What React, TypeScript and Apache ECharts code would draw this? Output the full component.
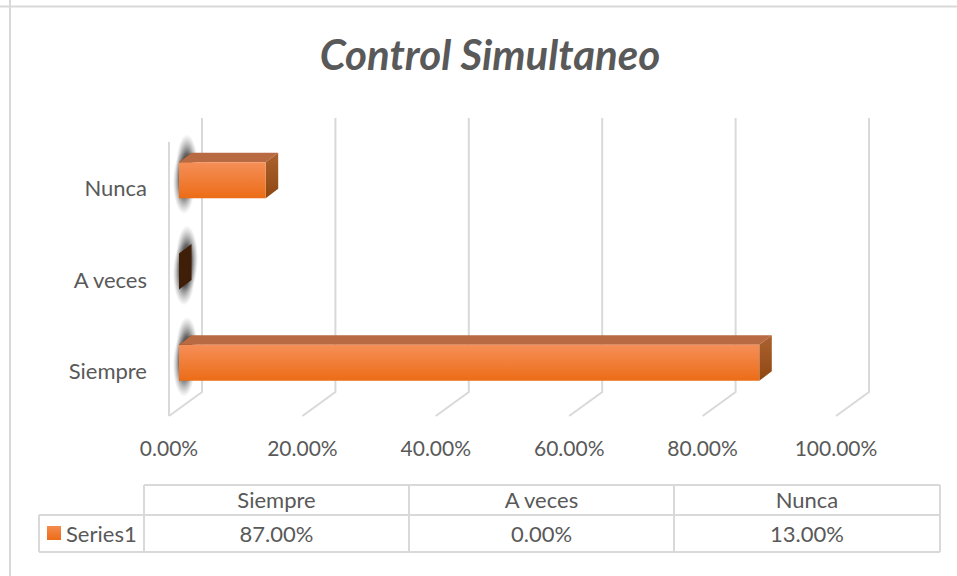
import React, { useEffect, useRef } from "react";
import * as echarts from "echarts";

const titleText = "Control Simultaneo";
const categories = ["Siempre", "A veces", "Nunca"];
const values = [87, 0, 13];
const seriesName = "Series1";
const ticks = [0, 20, 40, 60, 80, 100];

const FONT = "Lato, Carlito, sans-serif";
const TEXT = "#595959";
const LINE = "#d9d9d9";
const fmt = (v: number) => v.toFixed(2) + "%";

const lin = (a: string, b: string) => new echarts.graphic.LinearGradient(0, 0, 0, 1, [
  { offset: 0, color: a }, { offset: 1, color: b },
]);
const glow = () => new echarts.graphic.RadialGradient(0.5, 0.5, 0.5, [
  { offset: 0, color: "rgba(20,20,20,0.8)" },
  { offset: 0.4, color: "rgba(30,30,30,0.7)" },
  { offset: 0.7, color: "rgba(70,70,70,0.35)" },
  { offset: 1, color: "rgba(110,110,110,0)" },
]);

function tableGraphics() {
  const xs = [144, 409, 674, 940];
  const out: any[] = [];
  const ln = (x1: number, y1: number, x2: number, y2: number) => out.push({
    type: "line", shape: { x1, y1, x2, y2 }, style: { stroke: LINE, lineWidth: 2 }, silent: true,
  });
  ln(10, 0, 10, 576);
  ln(0, 6.5, 957, 6.5);
  ln(144, 485, 940, 485);
  ln(39, 515, 940, 515);
  ln(39, 552, 940, 552);
  ln(39, 515, 39, 552);
  xs.forEach((x) => ln(x, 485, x, 552));
  const txt = (text: string, x: number, y: number, align: string) => out.push({
    type: "text", x, y, silent: true,
    style: { text, fill: TEXT, font: `22px ${FONT}`, textAlign: align, textVerticalAlign: "middle" },
  });
  categories.forEach((c, i) => {
    const cx = (xs[i] + xs[i + 1]) / 2;
    txt(c, cx, 499, "center");
    txt(fmt(values[i]), cx, 533, "center");
  });
  txt(seriesName, 66, 533, "left");
  out.push({
    type: "rect", shape: { x: 47, y: 526, width: 14, height: 14 }, silent: true,
    style: { fill: lin("#f58b4f", "#ec6c16") },
  });
  return out;
}

export default function App() {
  const ref = useRef<HTMLDivElement>(null);
  useEffect(() => {
    const chart = echarts.init(ref.current!, undefined, { renderer: "svg" });
    chart.setOption({
      animation: false,
      backgroundColor: "#ffffff",
      title: {
        text: titleText, left: 485, top: 28, textAlign: "center",
        textStyle: { fontFamily: FONT, fontSize: 42, fontWeight: "bold", fontStyle: "italic", color: TEXT },
      },
      grid: { left: 169, top: 142, width: 667, height: 274 },
      xAxis: {
        type: "value", min: 0, max: 100, interval: 20,
        axisLine: { show: false }, axisTick: { show: false }, splitLine: { show: false },
        axisLabel: { formatter: (v: number) => fmt(v), color: TEXT, fontFamily: FONT, fontSize: 21, margin: 21 },
      },
      yAxis: {
        type: "category", data: categories,
        axisLine: { show: false }, axisTick: { show: false }, splitLine: { show: false },
        axisLabel: { color: TEXT, fontFamily: FONT, fontSize: 22, margin: 22, padding: [8, 0, 0, 0] },
      },
      series: [
        {
          type: "custom", silent: true, z: 1, clip: false,
          data: ticks.map((t) => [t]),
          encode: { x: 0 },
          renderItem: (_: any, api: any) => {
            const t = api.value(0);
            const band = api.size([0, 1])[1];
            const [x, yFirst] = api.coord([t, 0]);
            const [, yLast] = api.coord([t, categories.length - 1]);
            const yBottom = yFirst + band / 2, yTop = yLast - band / 2;
            const style = { stroke: LINE, lineWidth: 2, fill: "none" };
            const children: any[] = [{
              type: "polyline",
              shape: { points: [[x, yBottom], [x + 33, yBottom - 24], [x + 33, yTop - 24]] },
              style,
            }];
            if (t === 0) children.push({ type: "line", shape: { x1: x, y1: yBottom, x2: x, y2: yTop }, style });
            return { type: "group", children };
          },
        },
        {
          type: "custom", silent: true, z: 2, clip: false, name: seriesName,
          data: values.map((v, i) => [v, i]),
          encode: { x: 0, y: 1 },
          renderItem: (_: any, api: any) => {
            const v = api.value(0);
            const [x0, cy] = api.coord([0, api.value(1)]);
            const [x1] = api.coord([v, api.value(1)]);
            const dx = 10, dy = -7.5, h = 36, depthX = 12.5, depthY = 9.5;
            const left = x0 + dx, right = x1 + dx;
            const top = cy + dy - h / 2, bottom = cy + dy + h / 2;
            const children: any[] = [
              {
                type: "rect",
                shape: { x: left - 3, y: top - 28, width: 22, height: h + 30 },
                style: { fill: glow() },
              },
              {
                type: "rect",
                shape: { x: left - 6, y: top - 12, width: 22, height: h + 28 },
                style: { fill: glow() },
              },
              {
                type: "polygon",
                shape: { points: [[left, top], [left + depthX, top - depthY], [left + depthX, bottom - depthY], [left, bottom]] },
                style: { fill: "#3f1f08" },
              },
            ];
            if (v > 0) {
              children.push(
                {
                  type: "polygon",
                  shape: { points: [[left, top], [left + depthX, top - depthY], [right + depthX, top - depthY], [right, top]] },
                  style: { fill: "#b86a42" },
                },
                {
                  type: "polygon",
                  shape: { points: [[right, top], [right + depthX, top - depthY], [right + depthX, bottom - depthY], [right, bottom]] },
                  style: { fill: lin("#ab6230", "#8f4712") },
                },
                {
                  type: "rect",
                  shape: { x: left, y: top, width: right - left, height: h },
                  style: { fill: lin("#f58f58", "#ec6c16") },
                },
              );
            }
            return { type: "group", children };
          },
        },
      ],
      graphic: tableGraphics(),
    });
    return () => chart.dispose();
  }, []);
  return <div ref={ref} style={{ position: "fixed", left: 0, top: 0, width: 957, height: 576 }} />;
}
